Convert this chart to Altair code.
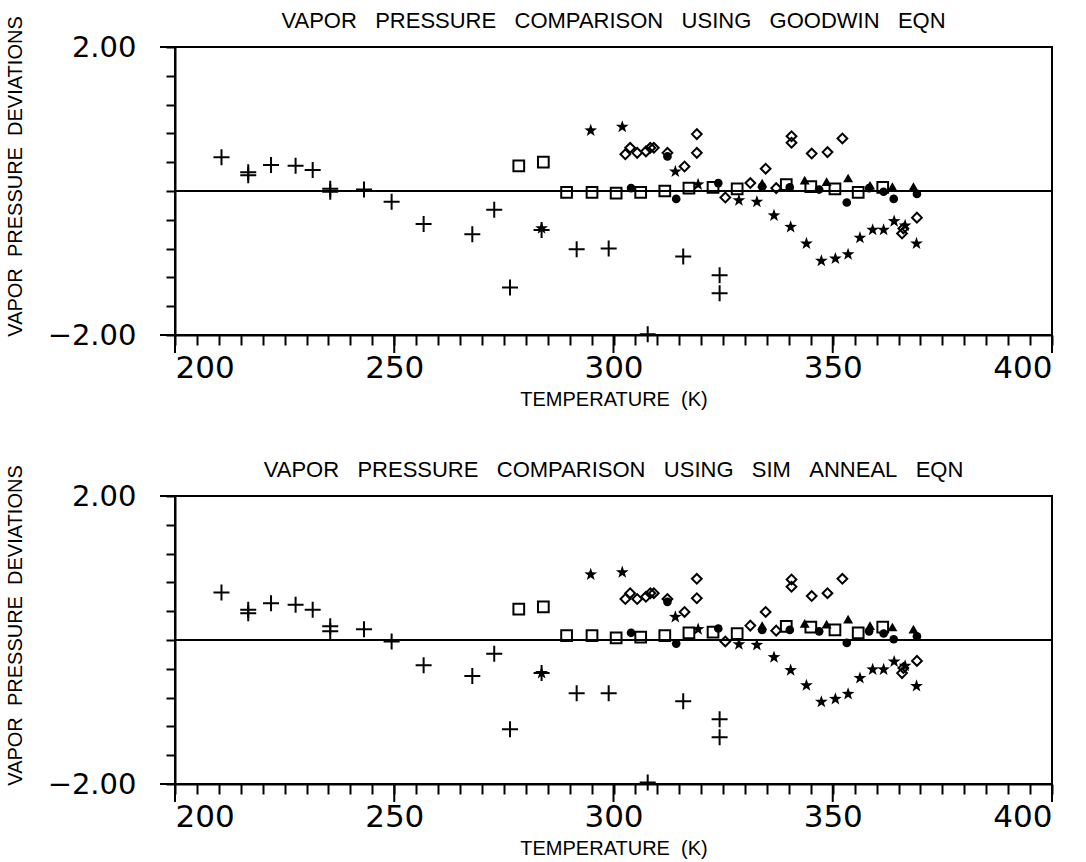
import altair as alt
import pandas as pd

NB = "\u00a0"

# ---------------- data ----------------
plus_T = [210.6, 216.7, 216.7, 221.9, 227.5, 231.4, 235.4, 235.4, 243.1, 249.4, 256.7,
          267.8, 272.8, 276.4, 283.6, 291.6, 298.9, 307.8, 315.9, 324.2, 324.2]
plus_goodwin = [0.47, 0.26, 0.22, 0.36, 0.35, 0.29, 0.03, -0.01, 0.02, -0.15, -0.46,
                -0.60, -0.26, -1.34, -0.54, -0.81, -0.80, -1.99, -0.91, -1.17, -1.42]
plus_anneal = [0.66, 0.42, 0.37, 0.51, 0.49, 0.42, 0.19, 0.12, 0.15, -0.02, -0.35,
               -0.50, -0.19, -1.24, -0.46, -0.74, -0.74, -1.98, -0.85, -1.10, -1.35]

square_T = [278.4, 284.0, 289.3, 295.1, 300.6, 306.2, 311.7, 317.2, 322.7, 328.2,
            339.4, 345.0, 350.5, 355.8, 361.4]
square_goodwin = [0.35, 0.40, -0.02, -0.02, -0.03, -0.02, 0.00, 0.04, 0.05, 0.03,
                  0.09, 0.06, 0.03, -0.02, 0.05]
square_anneal = [0.43, 0.46, 0.06, 0.06, 0.03, 0.04, 0.06, 0.10, 0.11, 0.09,
                 0.19, 0.18, 0.14, 0.10, 0.18]

star_T = [283.6, 294.8, 302.0, 314.1, 319.3, 328.6, 332.7, 336.6, 340.4, 344.0,
          347.4, 350.6, 353.5, 356.2, 359.1, 361.6, 364.0, 366.5, 369.1]
star_goodwin = [-0.52, 0.84, 0.89, 0.27, 0.09, -0.13, -0.15, -0.34, -0.50, -0.73,
                -0.97, -0.94, -0.88, -0.65, -0.54, -0.54, -0.42, -0.48, -0.73]
star_anneal = [-0.46, 0.91, 0.94, 0.32, 0.15, -0.06, -0.07, -0.24, -0.42, -0.63,
               -0.86, -0.82, -0.75, -0.53, -0.41, -0.41, -0.30, -0.36, -0.64]

diamond_T = [302.7, 303.8, 305.4, 307.4, 308.4, 309.2, 312.3, 316.2, 319.0, 319.0,
             325.5, 331.2, 334.7, 337.1, 340.6, 340.6, 345.2, 348.8, 352.2,
             365.8, 366.1, 369.2]
diamond_goodwin = [0.51, 0.60, 0.53, 0.55, 0.60, 0.60, 0.53, 0.34, 0.79, 0.53,
                   -0.09, 0.11, 0.31, 0.04, 0.76, 0.67, 0.52, 0.54, 0.73,
                   -0.59, -0.52, -0.37]
diamond_anneal = [0.57, 0.65, 0.57, 0.60, 0.65, 0.65, 0.57, 0.39, 0.85, 0.58,
                  -0.02, 0.20, 0.39, 0.13, 0.84, 0.74, 0.61, 0.65, 0.85,
                  -0.46, -0.39, -0.29]

dot_T = [304.0, 312.3, 314.3, 323.9, 333.9, 340.2, 346.9, 353.2, 358.3, 361.6, 363.9, 369.2]
dot_goodwin = [0.04, 0.48, -0.11, 0.11, 0.06, 0.05, 0.02, -0.16, 0.04, -0.01, -0.11, -0.04]
dot_anneal = [0.10, 0.53, -0.05, 0.16, 0.14, 0.14, 0.12, -0.04, 0.12, 0.09, 0.01, 0.05]

tri_T = [333.9, 343.6, 348.6, 353.5, 358.5, 363.6, 368.4]
tri_goodwin = [0.11, 0.15, 0.13, 0.18, 0.08, 0.06, 0.06]
tri_anneal = [0.20, 0.23, 0.22, 0.29, 0.20, 0.18, 0.15]

x_ticks = list(range(200, 401, 5))
x_major = [200, 250, 300, 350, 400]
y_ticks = [-2.0, -1.6, -1.2, -0.8, -0.4, 0.0, 0.4, 0.8, 1.2, 1.6, 2.0]
y_major = [-2.0, 2.0]
zero_line = [0.0]

titles = ["VAPOR PRESSURE COMPARISON USING GOODWIN EQN",
          "VAPOR PRESSURE COMPARISON USING SIM ANNEAL EQN"]

# ---------------- styling ----------------
W, H = 877, 288
TXT = "Liberation Sans"
PLUS = "M-1,0L1,0M0,-1L0,1"
STAR = ("M0,-1L0.235,-0.324L0.951,-0.309L0.380,0.124L0.588,0.809L0,0.4"
        "L-0.588,0.809L-0.380,0.124L-0.951,-0.309L-0.235,-0.324Z")
series = [
    (plus_T, plus_goodwin, plus_anneal, PLUS, False, 256),
    (square_T, square_goodwin, square_anneal, "square", False, 115),
    (star_T, star_goodwin, star_anneal, STAR, True, 180),
    (diamond_T, diamond_goodwin, diamond_anneal, "diamond", False, 95),
    (dot_T, dot_goodwin, dot_anneal, "circle", True, 75),
    (tri_T, tri_goodwin, tri_anneal, "triangle-up", True, 100),
]

x_scale = alt.Scale(domain=[200, 400], nice=False, zero=False)
y_scale = alt.Scale(domain=[-2, 2], nice=False, zero=False)

x_axis = alt.Axis(
    values=x_ticks,
    labelExpr="datum.value % 50 == 0 ? datum.label : ''",
    labelOverlap=False,
    tickSize=10,
    labelPadding=8,
    labelFont="DejaVu Sans", labelFontSize=31, labelColor="black",
    title=f"TEMPERATURE{NB}{NB}(K)",
    titleFont=TXT, titleFontSize=20, titleFontWeight="normal",
    titleColor="black", titlePadding=6,
    grid=False,
)
y_axis = alt.Axis(
    values=y_ticks,
    labelExpr="abs(datum.value) > 1.99 ? format(datum.value, '.2f') : ''",
    labelOverlap=False,
    tickSize=9,
    labelPadding=30,
    labelFont="DejaVu Sans", labelFontSize=29, labelColor="black",
    title=f"VAPOR{NB}{NB}PRESSURE{NB}{NB}DEVIATIONS",
    titleFont=TXT, titleFontSize=20, titleFontWeight="normal",
    titleColor="black", titlePadding=22, titleY=129,
    grid=False,
)


def panel(idx):
    X = alt.X("T:Q", scale=x_scale, axis=x_axis)
    Y = alt.Y("dev:Q", scale=y_scale, axis=y_axis)
    layers = [
        alt.Chart(pd.DataFrame({"dev": zero_line})).mark_rule(color="black", strokeWidth=2).encode(y=Y),
        alt.Chart(pd.DataFrame({"T": x_major})).mark_rule(color="black", strokeWidth=2).encode(
            x=X, y=alt.value(H), y2=alt.value(H + 18)),
        alt.Chart(pd.DataFrame({"dev": y_major})).mark_rule(color="black", strokeWidth=2).encode(
            y=Y, x=alt.value(-15), x2=alt.value(0)),
    ]
    for T, gw, sa, shape, filled, size in series:
        df = pd.DataFrame({"T": T, "dev": gw if idx == 0 else sa})
        layers.append(
            alt.Chart(df).mark_point(
                shape=shape, filled=filled, size=size, color="black", strokeWidth=2, opacity=1,
            ).encode(x=X, y=Y)
        )
    return alt.layer(*layers).properties(
        width=W, height=H,
        title=alt.TitleParams(
            text=titles[idx].replace(" ", NB * 3),
            font=TXT, fontSize=22, fontWeight="normal",
            color="black", anchor="middle", offset=-17,
        ),
    )


chart = alt.vconcat(panel(0), panel(1), spacing=47).properties(
    padding={"left": 4, "top": 8, "right": 10, "bottom": 2},
    background="white",
).configure_view(
    stroke="black", strokeWidth=2
).configure_axis(
    domainColor="black", domainWidth=2, tickColor="black", tickWidth=2,
)

chart.save("out.html", embed_options={"renderer": "svg", "actions": False})
